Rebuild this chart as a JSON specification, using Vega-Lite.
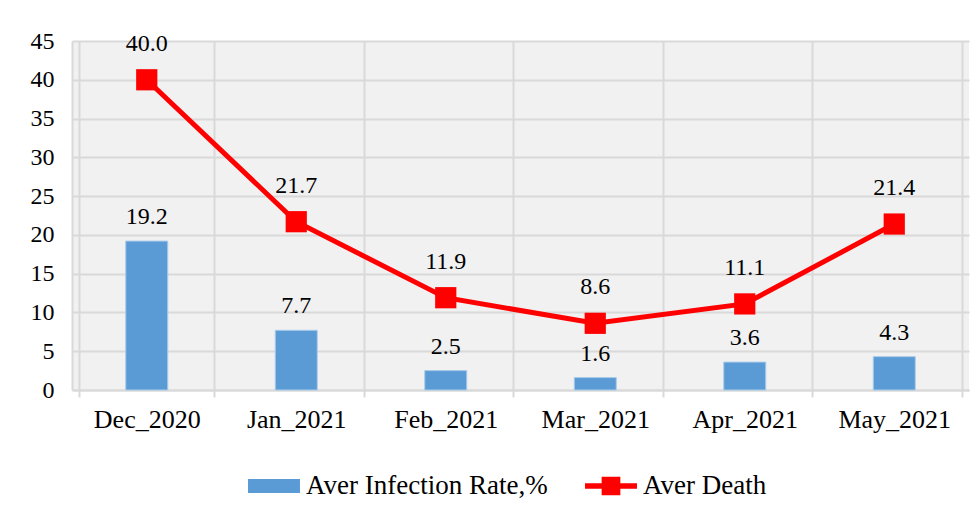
{
  "$schema": "https://vega.github.io/schema/vega-lite/v6.json",
  "autosize": {"type": "none"},
  "width": 897,
  "height": 349,
  "padding": {"left": 72, "top": 41, "right": 10, "bottom": 116},
  "background": "white",
  "config": {
    "font": "Liberation Serif",
    "view": {"fill": "#f1f1f1", "stroke": null},
    "axisY": {
      "labelFontSize": 24,
      "labelColor": "#000000",
      "labelPadding": 18,
      "ticks": false,
      "domainColor": "#d9d9d9",
      "domainWidth": 2,
      "gridColor": "#d9d9d9",
      "gridWidth": 2
    },
    "legend": {
      "orient": "none",
      "direction": "horizontal",
      "labelFontSize": 27,
      "labelColor": "#000000",
      "labelLimit": 400,
      "labelOffset": 6,
      "symbolSize": 2700,
      "symbolStrokeWidth": 0,
      "symbolOpacity": 1
    }
  },
  "resolve": {"scale": {"color": "independent"}, "legend": {"color": "independent"}},
  "data": {
    "values": [
      {"month": "Dec_2020", "infection": 19.2, "death": 40.0},
      {"month": "Jan_2021", "infection": 7.7, "death": 21.7},
      {"month": "Feb_2021", "infection": 2.5, "death": 11.9},
      {"month": "Mar_2021", "infection": 1.6, "death": 8.6},
      {"month": "Apr_2021", "infection": 3.6, "death": 11.1},
      {"month": "May_2021", "infection": 4.3, "death": 21.4}
    ]
  },
  "encoding": {
    "x": {
      "field": "month",
      "type": "nominal",
      "sort": null,
      "title": null,
      "axis": {
        "labelAngle": 0,
        "labelFontSize": 26,
        "labelColor": "#000000",
        "labelPadding": 9,
        "tickBand": "extent",
        "tickSize": 7,
        "tickColor": "#d9d9d9",
        "tickWidth": 2,
        "domainColor": "#d9d9d9",
        "domainWidth": 2,
        "grid": true,
        "gridColor": "#d9d9d9",
        "gridWidth": 2
      }
    }
  },
  "layer": [
    {
      "mark": {"type": "bar", "size": 42, "stroke": "#a9cbea", "strokeWidth": 1},
      "encoding": {
        "y": {
          "field": "infection",
          "type": "quantitative",
          "title": null,
          "scale": {"domain": [0, 45]},
          "axis": {"values": [0, 5, 10, 15, 20, 25, 30, 35, 40, 45]}
        },
        "color": {
          "datum": "Aver Infection Rate,%",
          "type": "nominal",
          "scale": {"range": ["#5b9bd5"]},
          "legend": {
            "title": null,
            "legendX": 176,
            "legendY": 419,
            "symbolType": "M-1,-0.27H1V0.27H-1Z",
            "symbolFillColor": "#5b9bd5"
          }
        }
      }
    },
    {
      "mark": {"type": "text", "baseline": "bottom", "dy": -12, "fontSize": 24, "color": "#000000"},
      "encoding": {
        "y": {
          "field": "infection",
          "type": "quantitative",
          "axis": {"values": [0, 5, 10, 15, 20, 25, 30, 35, 40, 45]}
        },
        "text": {"field": "infection", "type": "quantitative", "format": ".1f"}
      }
    },
    {
      "mark": {
        "type": "line",
        "strokeWidth": 5,
        "point": {"shape": "square", "size": 450, "filled": true, "opacity": 1}
      },
      "encoding": {
        "y": {
          "field": "death",
          "type": "quantitative",
          "axis": {"values": [0, 5, 10, 15, 20, 25, 30, 35, 40, 45]}
        },
        "color": {
          "datum": "Aver Death",
          "type": "nominal",
          "scale": {"range": ["#ff0000"]},
          "legend": {
            "title": null,
            "legendX": 513,
            "legendY": 419,
            "symbolType": "M-1,-0.11H-0.36V-0.36H0.36V-0.11H1V0.11H0.36V0.36H-0.36V0.11H-1Z",
            "symbolFillColor": "#ff0000"
          }
        }
      }
    },
    {
      "mark": {"type": "text", "baseline": "bottom", "dy": -24, "fontSize": 24, "color": "#000000"},
      "encoding": {
        "y": {
          "field": "death",
          "type": "quantitative",
          "axis": {"values": [0, 5, 10, 15, 20, 25, 30, 35, 40, 45]}
        },
        "text": {"field": "death", "type": "quantitative", "format": ".1f"}
      }
    }
  ]
}
